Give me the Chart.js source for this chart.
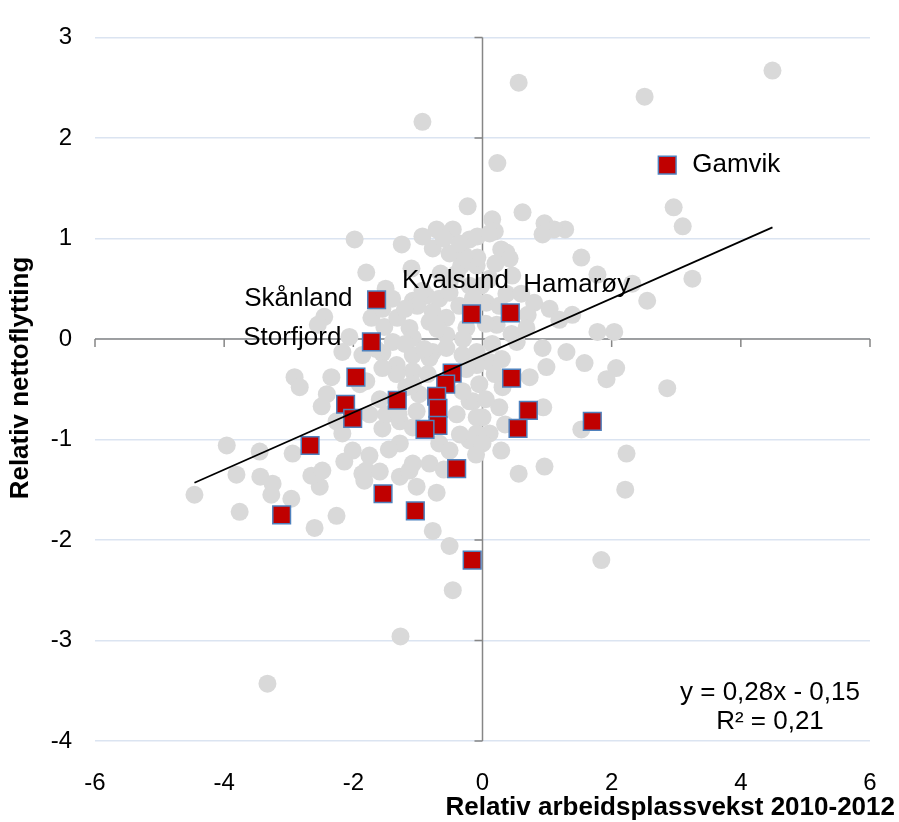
<!DOCTYPE html>
<html>
<head>
<meta charset="utf-8">
<script src="https://cdn.jsdelivr.net/npm/chart.js@4.4.1/dist/chart.umd.min.js"></script>
<style>
html, body { margin: 0; padding: 0; background: #fff; }
canvas { display: block; }
</style>
</head>
<body>
<canvas id="chart" width="899" height="822"></canvas>
<script>
// Alle kommuner (grå punkter)
var greyX = [4.49, 0.56, 2.51, -0.93, 0.23, 2.96, 3.10, 3.25, 2.55, 2.32, 1.78, 1.53, 0.62, 0.96, 1.28, 1.11, 0.93, 0.15, 0.19, -0.23,
    0.37, -0.09, -0.08, -0.20, 0.46, 0.11, 0.37, 0.80, 1.04, 0.70, 1.39, 1.19, 0.68, 1.78, 2.04, 1.30, 1.58, 2.07, 1.92, 0.93,
    0.99, 2.86, 0.94, 1.53, 2.23, 0.96, 0.56, 2.21, 0.29, 1.84, 0.73, 0.26, 0.11, 0.31, 0.11, -0.09, -0.15, -0.09, 0.00, -3.33,
    -1.27, -0.46, -0.51, -0.77, -0.71, -4.46, -3.96, -3.76, -3.81, -3.45, -3.44, -3.25, -3.27, -2.96, -2.91, -2.83, -2.94, -2.60, -2.26, -2.52,
    -2.65, -2.48, -2.34, -2.41, -2.49, -2.26, -2.17, -2.01, -2.14, -1.80, -1.83, -1.59, -1.75, -1.55, -1.49, -1.28, -1.13, -1.02, -1.90, -2.45,
    -2.55, -2.06, -1.98, -1.80, -1.50, -1.72, -1.52, -1.32, -1.25, -0.93, -0.71, -0.46, -0.77, -0.51, -0.28, -1.08, -0.87, -0.77, -1.13, -1.08,
    -1.39, -1.86, -1.55, -1.33, -1.08, -0.77, -0.56, -1.80, -0.33, -0.93, -1.01, -0.67, -0.51, -0.02, 0.06, -0.82, -0.56, -2.17, -0.82, -1.08,
    -1.33, -1.59, -1.75, -1.28, -1.08, -1.02, -0.98, -1.18, -1.86, -1.08, -0.82, -0.67, -0.51, -0.20, 0.00, -0.20, -0.09, -0.31, -0.05, -0.09,
    -0.31, -0.56, -1.08, -1.55, -1.28, -0.08, 0.11, 0.29, 0.42, -0.51, 0.53, 0.22, -0.25, -0.36, 0.26, -0.20, 0.19,
    -0.40, -0.35, -0.25, -0.85, -0.90, -1.20, -1.20, -1.40, -0.65, -0.35, -0.15, 0.05, 0.15, 0.30, 0.45, 0.20, -0.60, -1.10, -0.10, -1.30,
    -1.45, -0.60, -0.30, 0.05, -1.65, -0.70, -0.40, 0.60, 0.35, -1.55];
var greyY = [2.67, 2.55, 2.41, 2.16, 1.75, 1.31, 1.12, 0.60, 0.38, 0.55, 0.64, 0.81, 1.26, 1.15, 1.09, 1.09, 1.04, 1.19, 1.07, 1.32,
    0.86, 0.73, 0.81, 0.99, 0.63, 0.60, 0.45, 0.36, 0.30, 0.24, 0.24, 0.19, 0.11, 0.07, 0.07, -0.13, -0.24, -0.29, -0.40, -0.09,
    -0.28, -0.49, -0.68, -0.90, -1.14, -1.27, -1.34, -1.50, -1.11, -2.20, -0.38, -0.68, -0.94, -0.48, -0.23, -0.13, -0.62, -0.94, -0.78, -3.43,
    -2.96, -2.50, -2.06, -1.91, -1.53, -1.55, -1.06, -1.72, -1.35, -1.12, -1.37, -1.44, -1.55, -1.59, -0.38, -0.48, -1.14, -1.88, -1.76, -1.47,
    -1.36, -1.31, -0.38, -0.55, -0.67, -0.82, -0.94, -1.11, -1.22, -1.31, -1.41, -1.32, -1.16, -0.89, -0.75, -1.37, -1.31, -1.47, -0.45, 0.22,
    0.14, 0.02, 0.99, 0.66, 0.50, 0.21, 0.12, 0.21, 0.94, 1.02, 1.09, 1.09, 0.90, 0.85, 0.83, 0.38, 0.43, 0.27, 0.11, 0.01,
    -0.03, -0.16, -0.14, -0.26, -0.16, -0.13, 0.04, -0.42, 0.73, 0.48, 0.33, 0.40, 0.56, 0.53, 0.36, 0.17, 0.21, -0.13, -0.19, -0.32,
    -0.35, -0.60, -0.75, -1.04, -0.88, -0.72, -0.55, -0.48, -1.34, -1.24, -1.24, -1.04, -1.11, -1.01, -1.04, -0.62, -0.78, -0.52, -0.45, -0.26,
    -0.16, -0.09, -0.45, -0.29, -0.82, 1.02, 1.05, 0.89, 0.80, 0.46, -0.03, 0.14, 0.11, 0.33, 0.33, 0.53, -0.35,
    -0.75, -0.95, -0.30, -0.35, -0.10, -0.05, 0.30, 0.40, 0.65, 0.95, 0.40, 0.15, -0.05, -0.20, 0.05, 0.75, 1.00, 0.70, -1.15, -0.75,
    -1.10, -1.30, 0.00, -0.60, -0.10, 0.10, 0.65, 0.45, -0.85, 0.30];

// Utvalgte kommuner (røde firkanter)
var redX = [2.86, -1.64, -1.72, -0.17, 0.43, -1.96, -2.12, -2.01, -2.67, -3.11, -1.32, -1.54, -1.04,
    -0.40, -0.16, -0.47, -0.57, -0.71, -0.69, -0.69, -0.89, 0.45, 0.71, 0.55, 1.70];
var redY = [1.73, 0.39, -0.03, 0.25, 0.26, -0.38, -0.65, -0.79, -1.06, -1.75, -0.61, -1.54, -1.71,
    -1.29, -2.20, -0.34, -0.45, -0.57, -0.69, -0.86, -0.90, -0.39, -0.71, -0.89, -0.82];
var redNames = ['Gamvik', 'Skånland', 'Storfjord', 'Kvalsund', 'Hamarøy'];

// Trendlinje (endepunkter)
var trendX = [-4.46, 4.49];
var trendY = [-1.43, 1.11];

var xTicks = [-6, -4, -2, 0, 2, 4, 6];
var yTicks = [-4, -3, -2, -1, 0, 1, 2, 3];
var xTitle = 'Relativ arbeidsplassvekst 2010-2012';
var yTitle = 'Relativ nettoflytting';
var eqLines = ['y = 0,28x - 0,15', 'R² = 0,21'];

var FONT = "'Liberation Sans', Arial, sans-serif";

function toPoints(xs, ys) {
    var pts = [];
    for (var i = 0; i < xs.length; i++) {
        pts.push({ x: xs[i], y: ys[i] });
    }
    return pts;
}

// Etikettplassering relativt til punktet (piksler)
var labelPos = {
    'Gamvik': { dx: 25, dy: 0, align: 'left' },
    'Skånland': { dx: -24, dy: -1, align: 'right' },
    'Storfjord': { dx: -30, dy: -4, align: 'right' },
    'Kvalsund': { dx: -16, dy: -33, align: 'center' },
    'Hamarøy': { dx: 13, dy: -28, align: 'left' }
};

var overlay = {
    id: 'overlay',
    beforeDatasetsDraw: function (chart) {
        var ctx = chart.ctx;
        var xs = chart.scales.x, ys = chart.scales.y;
        var x0 = xs.getPixelForValue(0), y0 = ys.getPixelForValue(0);
        ctx.save();
        ctx.strokeStyle = '#868686';
        ctx.lineWidth = 1.5;
        ctx.beginPath();
        ctx.moveTo(x0, ys.getPixelForValue(yTicks[yTicks.length - 1]));
        ctx.lineTo(x0, ys.getPixelForValue(yTicks[0]));
        yTicks.forEach(function (t) {
            var p = ys.getPixelForValue(t);
            ctx.moveTo(x0 - 8, p);
            ctx.lineTo(x0, p);
        });
        ctx.moveTo(xs.getPixelForValue(xTicks[0]), y0);
        ctx.lineTo(xs.getPixelForValue(xTicks[xTicks.length - 1]), y0);
        xTicks.forEach(function (t) {
            var p = xs.getPixelForValue(t);
            ctx.moveTo(p, y0);
            ctx.lineTo(p, y0 + 8);
        });
        ctx.stroke();
        ctx.restore();
    },
    afterDatasetsDraw: function (chart) {
        var ctx = chart.ctx;
        var xs = chart.scales.x, ys = chart.scales.y;
        ctx.save();
        ctx.fillStyle = '#000';
        ctx.textBaseline = 'middle';
        ctx.font = '26px ' + FONT;
        redNames.forEach(function (name, i) {
            var lp = labelPos[name];
            ctx.textAlign = lp.align;
            ctx.fillText(name, xs.getPixelForValue(redX[i]) + lp.dx, ys.getPixelForValue(redY[i]) + lp.dy);
        });
        // Regresjonsligning
        ctx.textAlign = 'center';
        ctx.fillText(eqLines[0], 770, 693);
        ctx.fillText(eqLines[1], 770, 722);
        // Aksetitler
        ctx.font = 'bold 26px ' + FONT;
        ctx.textAlign = 'right';
        ctx.fillText(xTitle, 895, 808);
        ctx.translate(21, 378);
        ctx.rotate(-Math.PI / 2);
        ctx.textAlign = 'center';
        ctx.fillText(yTitle, 0, 0);
        ctx.restore();
    }
};

new Chart(document.getElementById('chart'), {
    type: 'scatter',
    data: {
        datasets: [{
            type: 'line',
            data: toPoints(trendX, trendY),
            borderColor: '#000',
            borderWidth: 1.75,
            pointRadius: 0,
            fill: false,
            order: 0
        }, {
            data: toPoints(redX, redY),
            pointStyle: 'rect',
            pointRadius: 12.5,
            pointHoverRadius: 12.5,
            backgroundColor: '#c00000',
            borderColor: '#4f81bd',
            borderWidth: 1.5,
            order: 1
        }, {
            data: toPoints(greyX, greyY),
            pointStyle: 'circle',
            pointRadius: 9,
            pointHoverRadius: 9,
            backgroundColor: '#d9d9d9',
            borderWidth: 0,
            order: 2
        }]
    },
    options: {
        responsive: false,
        animation: false,
        devicePixelRatio: 1,
        layout: { padding: { top: 29, right: 29, bottom: 0, left: 0 } },
        plugins: {
            legend: { display: false },
            tooltip: { enabled: false }
        },
        scales: {
            x: {
                type: 'linear',
                min: -6,
                max: 6,
                afterFit: function (s) { s.height = 81; },
                afterBuildTicks: function (s) { s.ticks = xTicks.map(function (v) { return { value: v }; }); },
                grid: { display: false },
                border: { display: false },
                ticks: {
                    padding: 20,
                    color: '#000',
                    font: { family: FONT, size: 24 },
                    callback: function (v) { return String(v); }
                }
            },
            y: {
                type: 'linear',
                min: -4,
                max: 3,
                afterFit: function (s) { s.width = 95; },
                afterBuildTicks: function (s) { s.ticks = yTicks.map(function (v) { return { value: v }; }); },
                grid: { color: '#dbe4f1', lineWidth: 1.5, drawTicks: false },
                border: { display: false },
                ticks: {
                    padding: 23,
                    color: '#000',
                    font: { family: FONT, size: 24 },
                    callback: function (v) { return String(v); }
                }
            }
        }
    },
    plugins: [overlay]
});
</script>
</body>
</html>
